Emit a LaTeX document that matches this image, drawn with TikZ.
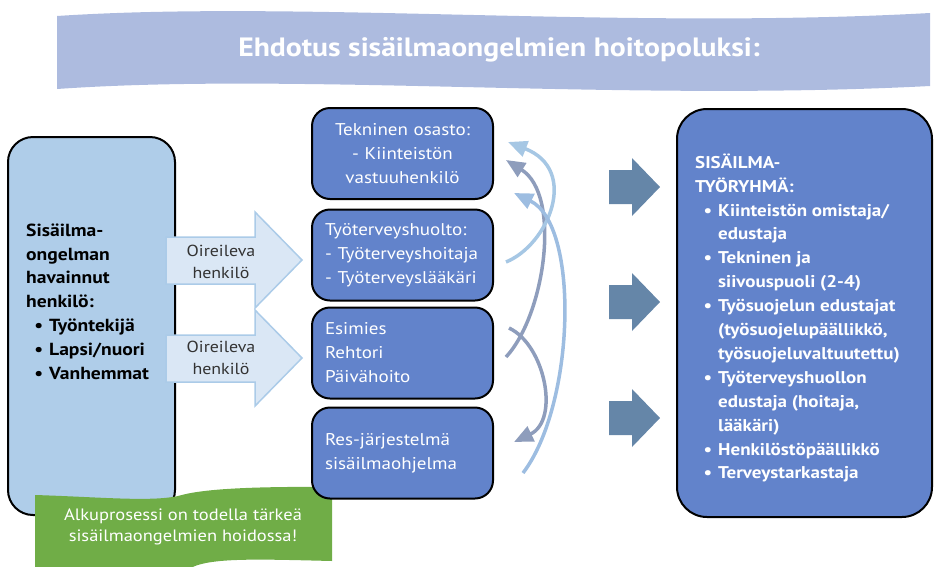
\documentclass[tikz,border=0pt]{standalone}
\usepackage{fontspec}
\setmainfont{PT Sans}[FakeStretch=1.12]
\usetikzlibrary{arrows.meta,calc}

\definecolor{bannerblue}{HTML}{ADBBDF}
\definecolor{srcfill}{HTML}{AFCDE9}
\definecolor{arrowfill}{HTML}{DAE7F5}
\definecolor{arrowline}{HTML}{ABCBE8}
\definecolor{boxblue}{HTML}{6283CB}
\definecolor{steel}{HTML}{6586A8}
\definecolor{curvelight}{HTML}{A6C7E4}
\definecolor{curvegray}{HTML}{8E9DBC}
\definecolor{curvemid}{HTML}{9DBDE1}
\definecolor{leafgreen}{HTML}{70AD47}

\newcommand\bitem[1]{\makebox[23pt][r]{\textbullet\hspace{6pt}}#1}

\tikzset{
  roundbox/.style={draw=black, line width=2pt, inner sep=0pt},
  midbox/.style={roundbox, fill=boxblue, rounded corners=18pt,
    minimum width=181pt, minimum height=91pt, text=white,
    font=\fontsize{17}{24}\selectfont, inner xsep=13pt},
  hollowarrow/.style={fill=arrowfill, draw=arrowline, line width=1.5pt},
  solidarrow/.style={fill=steel},
  curve/.style={line width=3.5pt, -{Triangle[length=19pt,width=16pt]}},
  arrowtext/.style={text=black!80, align=center,
    font=\fontsize{16}{22}\selectfont},
}

\begin{document}
\begin{tikzpicture}[x=1pt,y=-1pt]
\useasboundingbox (0,0) rectangle (935,566);

% title banner
\fill[bannerblue] (57,16) .. controls (300,0) and (620,30) .. (930,13)
  -- (930,86) .. controls (620,102) and (300,72) .. (57,89) -- cycle;
\node[text=white, font=\fontsize{26.5}{30}\selectfont\bfseries] (title) at (499,50)
  {Ehdotus sisäilmaongelmien hoitopoluksi:};

% left box: who noticed the problem
\node[roundbox, fill=srcfill, rounded corners=25pt,
  minimum width=167pt, minimum height=378pt] (src) at (91.5,326) {};
\node[anchor=north west, inner sep=0pt, align=left,
  font=\fontsize{17.5}{23.8}\selectfont\bfseries] (srctext) at (26,219)
  {\rule{0pt}{17pt}Sisäilma-\\ongelman\\havainnut\\henkilö:\\
   \bitem{Työntekijä}\\\bitem{Lapsi/nuori}\\\bitem{Vanhemmat}};

% green note
\fill[leafgreen] (35,495) .. controls (100,497) and (150,502) .. (178,496)
  .. controls (192,492) and (220,486) .. (332,487)
  -- (332,561) .. controls (250,559) and (200,557) .. (185,572)
  -- (35,575) -- cycle;
\node[text=white, align=center, font=\fontsize{16.5}{21.5}\selectfont] (note) at (183,527)
  {Alkuprosessi on todella tärkeä\\sisäilmaongelmien hoidossa!};

% middle column
\node[midbox, align=center, text width=155pt] (b1) at (402.5,153.5)
  {Tekninen osasto:\\- Kiinteistön\\vastuuhenkilö};
\node[midbox, align=left, text width=155pt] (b2) at (402.5,255)
  {Työterveyshuolto:\\- Työterveyshoitaja\\- Työterveyslääkäri};
\node[midbox, align=left, text width=155pt] (b3) at (402.5,353)
  {Esimies\\Rehtori\\Päivähoito};
\node[midbox, align=left, text width=155pt] (b4) at (402.5,453)
  {Res-järjestelmä\\sisäilmaohjelma};

% right box: indoor air working group
\node[roundbox, fill=boxblue, rounded corners=30pt,
  minimum width=255pt, minimum height=408pt] (grp) at (804.5,313) {};
\node[anchor=north west, inner sep=0pt, align=left, text=white,
  font=\fontsize{17}{23.9}\selectfont\bfseries] (grptext) at (695,151)
  {\rule{0pt}{17pt}SISÄILMA-\\TYÖRYHMÄ:\\
   \bitem{Kiinteistön omistaja/}\\\hspace*{23pt}edustaja\\
   \bitem{Tekninen ja}\\\hspace*{23pt}siivouspuoli (2-4)\\
   \bitem{Työsuojelun edustajat}\\\hspace*{23pt}(työsuojelupäällikkö,\\
   \hspace*{23pt}työsuojeluvaltuutettu)\\
   \bitem{Työterveyshuollon}\\\hspace*{23pt}edustaja (hoitaja,\\
   \hspace*{23pt}lääkäri)\\
   \bitem{Henkilöstöpäällikkö}\\\bitem{Terveystarkastaja}};

% "Oireileva henkilö" block arrows
\path[hollowarrow] (166,237) -- (255,237) -- (255,212) -- (302,260)
  -- (255,308) -- (255,284) -- (166,284) -- cycle;
\node[arrowtext] (sym1) at (221,262) {Oireileva\\henkilö};
\path[hollowarrow] (166,335) -- (255,335) -- (255,310) -- (302,358)
  -- (255,406) -- (255,382) -- (166,382) -- cycle;
\node[arrowtext] (sym2) at (221,358) {Oireileva\\henkilö};

% block arrows towards the working group
\foreach \yc in {187,302,418}{
  \fill[solidarrow] (609,\yc-17) -- (632,\yc-17) -- (632,\yc-29) -- (660,\yc)
    -- (632,\yc+29) -- (632,\yc+17) -- (609,\yc+17) -- cycle;
}

% curved links between the middle boxes
\draw[curve, curvegray] ($(b3.east)+(12,4)$) .. controls (545,315) and (562,195)
  .. ($(b1.east)+(12,6.5)$);
\draw[curve, curvegray] ($(b3.east)+(15,-25)$) .. controls (545,345) and (560,420)
  .. ($(b4.east)+(20,-11)$);
\draw[curve, curvelight] ($(b2.east)+(12,7)$) .. controls (548,245) and (580,170)
  .. ($(b1.east)+(14,-11.5)$);
\draw[curve, curvemid] ($(b4.east)+(29,20)$) .. controls (575,405) and (580,225)
  .. ($(b1.east)+(20,39.5)$);
\end{tikzpicture}
\end{document}
